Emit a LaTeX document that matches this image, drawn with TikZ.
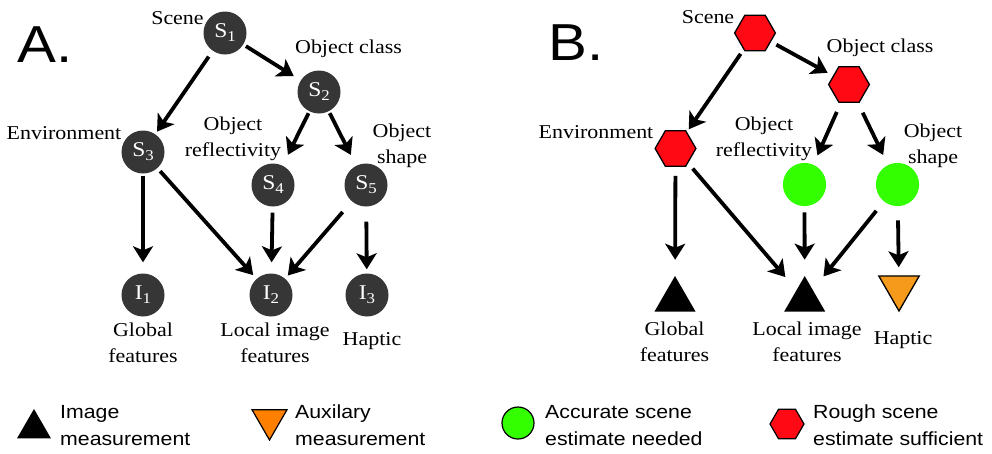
\documentclass[tikz,border=0pt]{standalone}
\usepackage{fontspec}
\setmainfont[FakeStretch=1.12]{Liberation Serif}
\setsansfont[FakeStretch=1.12]{Liberation Sans}
\usetikzlibrary{arrows.meta,shapes.geometric}
\definecolor{nodegray}{HTML}{363636}
\definecolor{hexred}{HTML}{FF0A14}
\definecolor{accgreen}{HTML}{33FF00}
\definecolor{auxorange}{HTML}{F59A1B}
\definecolor{legorange}{HTML}{FF8000}
\tikzset{
  snode/.style={circle,fill=nodegray,minimum size=43pt,inner sep=0pt,text=white,
    font=\fontsize{21}{21}\selectfont},
  lbl/.style={font=\fontsize{19.6}{26}\selectfont,align=center,inner sep=0pt,anchor=base},
  leg/.style={font=\sffamily\fontsize{19}{27}\selectfont,align=left,inner sep=0pt,anchor=west},
  arr/.style={line width=3.8pt,-{Stealth[length=16pt,width=20pt,inset=4pt]}},
  hexnode/.style={regular polygon,regular polygon sides=6,minimum size=40.8pt,inner sep=0pt,
    fill=hexred,draw=black,line width=1.3pt},
  gcirc/.style={circle,fill=accgreen,minimum size=43.2pt,inner sep=0pt},
  tri/.style={regular polygon,regular polygon sides=3,minimum size=47.4pt,inner sep=0pt,fill=black},
  itri/.style={regular polygon,regular polygon sides=3,shape border rotate=180,minimum size=46.8pt,
    inner sep=0pt,fill=auxorange,draw=black,line width=1.3pt},
  big/.style={font=\sffamily\fontsize{52}{52}\selectfont,inner sep=0pt,anchor=base west}
}
\newcommand{\Sub}[2]{#1\raisebox{-4pt}{\fontsize{15}{15}\selectfont #2}}
\begin{document}
\begin{tikzpicture}[x=1pt,y=-1pt]
\useasboundingbox (0,0) rectangle (992,453);
% ---------- Panel A ----------
\node[big] (la) at (17,62) {A.};
\node[snode] (s1) at (225,33) {\Sub{S}{1}};
\node[snode] (s2) at (319,92) {\Sub{S}{2}};
\node[snode] (s3) at (143,152) {\Sub{S}{3}};
\node[snode] (s4) at (273,185) {\Sub{S}{4}};
\node[snode] (s5) at (366,185) {\Sub{S}{5}};
\node[snode] (i1) at (143,295) {\Sub{I}{1}};
\node[snode] (i2) at (271,295) {\Sub{I}{2}};
\node[snode] (i3) at (367,295) {\Sub{I}{3}};
\node[lbl] (ta1) at (177.5,24) {Scene};
\node[lbl] (ta2) at (348.5,53) {Object class};
\node[lbl] (ta3) at (64,139) {Environment};
\node[lbl] (ta4) at (233,156) {Object\\reflectivity};
\node[lbl] (ta5) at (402,163) {Object\\shape};
\node[lbl] (ta6) at (143,362) {Global\\features};
\node[lbl] (ta7) at (275,362) {Local image\\features};
\node[lbl] (ta8) at (372,345) {Haptic};
\draw[arr,shorten <=3pt,shorten >=8pt] (s1) -- (s2);
\draw[arr,shorten <=7pt,shorten >=3pt] (s1) -- (s3);
\draw[arr,shorten <=2pt,shorten >=12pt] (s2) -- (s4);
\draw[arr,shorten <=2pt,shorten >=12pt] (s2) -- (s5);
\draw[arr,shorten <=2pt,shorten >=11pt] (s3) -- (i1);
\draw[arr,shorten <=4pt,shorten >=5pt] (s3) -- (i2);
\draw[arr,shorten <=6pt,shorten >=11pt] (s4) -- (i2);
\draw[arr,shorten <=14pt,shorten >=4pt] (s5) -- (i2);
\draw[arr,shorten <=15pt,shorten >=4pt] (s5) -- (i3);
% ---------- Panel B ----------
\node[big] (lb) at (548,60) {B.};
\node[hexnode] (h1) at (755,33) {};
\node[hexnode] (h2) at (849,84.5) {};
\node[hexnode] (h3) at (675.5,148.5) {};
\node[gcirc] (g4) at (804.5,184.5) {};
\node[gcirc] (g5) at (897.5,184.5) {};
\node[tri] (t1) at (675,299.7) {};
\node[tri] (t2) at (804.7,299.7) {};
\node[itri] (t3) at (899,287.6) {};
\node[lbl] (tb1) at (708,23) {Scene};
\node[lbl] (tb2) at (880,52) {Object class};
\node[lbl] (tb3) at (596,138) {Environment};
\node[lbl] (tb4) at (764,156) {Object\\reflectivity};
\node[lbl] (tb5) at (933,163) {Object\\shape};
\node[lbl] (tb6) at (674.5,361) {Global\\features};
\node[lbl] (tb7) at (807,361) {Local image\\features};
\node[lbl] (tb8) at (903,344) {Haptic};
\draw[arr,shorten <=6pt,shorten >=6pt] (h1) -- (h2);
\draw[arr,shorten <=5pt,shorten >=3pt] (h1) -- (h3);
\draw[arr,shorten <=10pt,shorten >=10pt] (h2) -- (g4);
\draw[arr,shorten <=11pt,shorten >=11pt] (h2) -- (g5);
\draw[arr,shorten <=9pt,shorten >=16pt] (h3) -- (t1);
\draw[arr,shorten <=7pt,shorten >=17pt] (h3) -- (t2);
\draw[arr,shorten <=6pt,shorten >=16pt] (g4) -- (t2);
\draw[arr,shorten <=12pt,shorten >=17pt] (g5) -- (t2);
\draw[arr,shorten <=14pt,shorten >=8pt] (g5) -- (t3);
% ---------- Legend ----------
\node[regular polygon,regular polygon sides=3,minimum size=39.3pt,inner sep=0pt,fill=black] (k1) at (34,428.6) {};
\node[leg] (kt1) at (60,425.5) {Image\\measurement};
\node[regular polygon,regular polygon sides=3,shape border rotate=180,minimum size=40.4pt,inner sep=0pt,
  fill=legorange,draw=black,line width=1.2pt] (k2) at (269.5,419.8) {};
\node[leg] (kt2) at (295,425.5) {Auxilary\\measurement};
\node[circle,minimum size=32pt,inner sep=0pt,fill=accgreen,draw=black,line width=1.2pt] (k3) at (518,423) {};
\node[leg] (kt3) at (545,425.5) {Accurate scene\\estimate needed};
\node[regular polygon,regular polygon sides=6,minimum size=34pt,inner sep=0pt,fill=hexred,draw=black,line width=1.2pt] (k4) at (787,424) {};
\node[leg] (kt4) at (813,425.5) {Rough scene\\estimate sufficient};
\end{tikzpicture}
\end{document}
